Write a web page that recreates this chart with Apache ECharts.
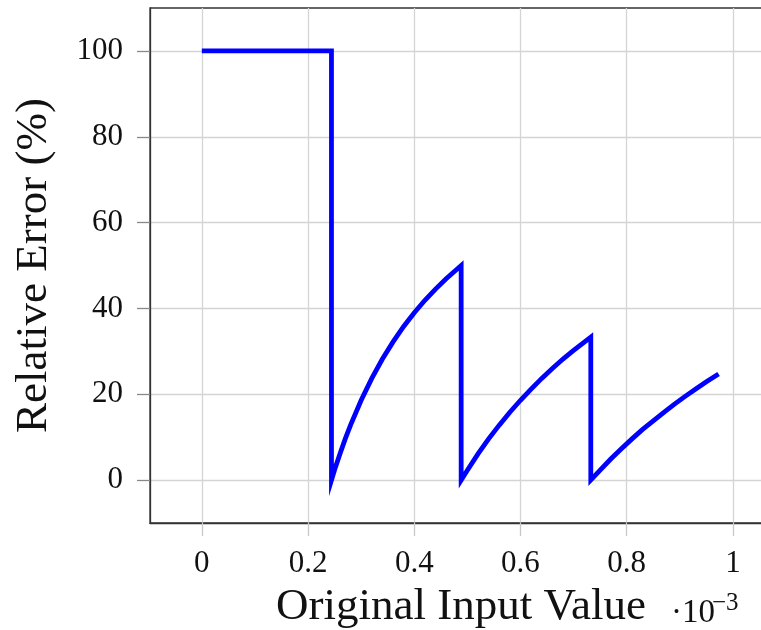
<!DOCTYPE html>
<html>
<head>
<meta charset="utf-8">
<script src="https://cdn.jsdelivr.net/npm/echarts@6/dist/echarts.min.js"></script>
<style>
  html, body { margin: 0; padding: 0; background: #fff; }
  #chart { width: 761px; height: 630px; }
</style>
</head>
<body>
<div id="chart"></div>
<script>
// Input values, in units of 10^-3
const inputValues = [
  0, 0.2441, 0.2441, 0.25, 0.26, 0.27, 0.28, 0.30, 0.32, 0.34, 0.36, 0.38, 0.40, 0.42, 0.44, 0.46, 0.4883,
  0.4883, 0.50, 0.52, 0.54, 0.56, 0.58, 0.60, 0.62, 0.64, 0.66, 0.68, 0.70, 0.7324,
  0.7324, 0.75, 0.77, 0.79, 0.81, 0.83, 0.85, 0.87, 0.89, 0.91, 0.93, 0.95, 0.973
];
// Relative error (%) at each input value
const relErrors = [
  100, 100, 0, 2.4, 6.1, 9.6, 12.8, 18.6, 23.7, 28.2, 32.2, 35.8, 39.0, 41.9, 44.5, 46.9, 50.0,
  0, 2.3, 6.1, 9.6, 12.8, 15.8, 18.6, 21.2, 23.7, 26.0, 28.2, 30.2, 33.3,
  0, 2.3, 4.9, 7.3, 9.6, 11.8, 13.8, 15.8, 17.7, 19.5, 21.2, 22.9, 24.7
];
const xTicks = [0, 0.2, 0.4, 0.6, 0.8, 1];
const yTicks = [0, 20, 40, 60, 80, 100];

const serif = "'Liberation Serif', 'DejaVu Serif', serif";
const chart = echarts.init(document.getElementById('chart'), null, { renderer: 'canvas' });

chart.setOption({
  animation: false,
  backgroundColor: '#fff',
  grid: {
    left: 150, top: 8, width: 622, height: 515,
    show: true, borderColor: '#333', borderWidth: 1.3,
    outerBoundsMode: 'none'
  },
  xAxis: {
    type: 'value',
    min: -0.0976, max: 1.0736,
    name: 'Original Input Value',
    nameLocation: 'middle',
    nameGap: 62,
    nameTextStyle: { fontFamily: serif, fontSize: 45, color: '#111' },
    axisLine: { show: true, onZero: false, lineStyle: { color: '#333', width: 1.3 } },
    axisTick: { show: true, inside: false, length: 13, customValues: xTicks, lineStyle: { color: '#c8c8c8', width: 1.3 } },
    axisLabel: { customValues: xTicks, margin: 25, fontFamily: serif, fontSize: 31, color: '#111',
      formatter: v => String(v) },
    splitLine: { show: true, lineStyle: { color: '#d4d4d4', width: 1.3 } }
  },
  yAxis: {
    type: 'value',
    min: -10, max: 110,
    name: 'Relative Error (%)',
    nameLocation: 'middle',
    nameGap: 93,
    nameTextStyle: { fontFamily: serif, fontSize: 45, color: '#111' },
    axisLine: { show: true, onZero: false, lineStyle: { color: '#333', width: 1.3 } },
    axisTick: { show: true, inside: false, length: 13, customValues: yTicks, lineStyle: { color: '#888', width: 1.3 } },
    axisLabel: { customValues: yTicks, margin: 27, fontFamily: serif, fontSize: 31, color: '#111' },
    splitLine: { show: true, lineStyle: { color: '#d4d4d4', width: 1.3 } }
  },
  graphic: [
    { type: 'text', x: 671, y: 613, style: { text: '·10', font: '33px ' + serif, fill: '#111', verticalAlign: 'middle' } },
    { type: 'text', x: 712, y: 603, style: { text: '−3', font: '25px ' + serif, fill: '#111', verticalAlign: 'middle' } }
  ],
  series: [{
    type: 'line',
    data: inputValues.map((x, i) => [x, relErrors[i]]),
    showSymbol: false,
    smooth: false,
    lineStyle: { color: '#0000ff', width: 4.8, join: 'miter', miterLimit: 10, cap: 'butt' },
    z: 5
  }]
});
</script>
</body>
</html>
